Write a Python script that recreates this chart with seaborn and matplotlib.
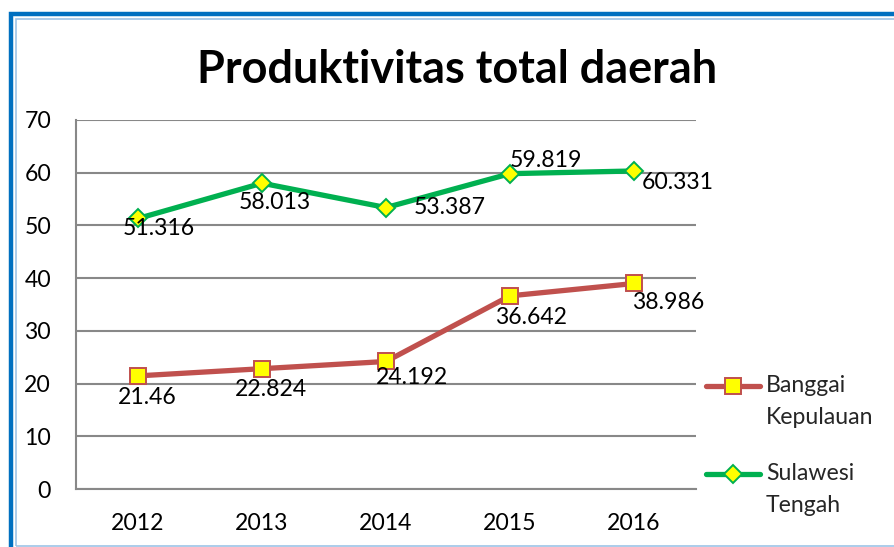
import matplotlib
matplotlib.use("Agg")
import matplotlib.pyplot as plt
import seaborn as sns
import pandas as pd
from matplotlib.lines import Line2D
from matplotlib.patches import Rectangle

years = ["2012", "2013", "2014", "2015", "2016"]
banggai = [21.46, 22.824, 24.192, 36.642, 38.986]
sulawesi = [51.316, 58.013, 53.387, 59.819, 60.331]
series_names = ["Banggai\nKepulauan", "Sulawesi\nTengah"]
title = "Produktivitas total daerah"
yticks = [0, 10, 20, 30, 40, 50, 60, 70]

# label offsets in pixels (dx, dy down)
off_b = [(9, 22), (9, 21), (26, 16), (21, 22), (34, 19)]
off_s = [(21, 10), (13, 19), (64, 0), (36, -13), (44, 12)]

sns.set_theme(style="white")
plt.rcParams["font.family"] = ["Lato", "DejaVu Sans"]

W, H = 894, 547
fig = plt.figure(figsize=(W / 100, H / 100), dpi=100)

def fx(x):
    return x / W

def fy(y):
    return 1 - y / H

# border
fig.patches.append(Rectangle((fx(11), fy(560)), fx(1000), fy(14) - fy(560),
                             transform=fig.transFigure, fill=False,
                             edgecolor="#0070C0", linewidth=3.2, zorder=0))
fig.patches.append(Rectangle((fx(15.5), fy(546)), fx(1000), fy(19) - fy(546),
                             transform=fig.transFigure, fill=False,
                             edgecolor="#9DC3E6", linewidth=1.2, zorder=0))

ax = fig.add_axes([fx(76), fy(489), fx(696) - fx(76), fy(120) - fy(489)])
ax.set_facecolor("none")

red = "#C0504D"
green = "#00B050"
df = pd.DataFrame({"year": years, "b": banggai, "s": sulawesi})
sns.lineplot(data=df, x="year", y="b", ax=ax, color=red, linewidth=3.8,
             marker="s", markersize=12, markerfacecolor="#FFFF00",
             markeredgecolor=red, markeredgewidth=1.4, zorder=3)
sns.lineplot(data=df, x="year", y="s", ax=ax, color=green, linewidth=3.8,
             marker="D", markersize=9.5, markerfacecolor="#FFFF00",
             markeredgecolor=green, markeredgewidth=1.4, zorder=3)

for i, (v, o) in enumerate(zip(banggai, off_b)):
    ax.annotate(f"{v:g}", (i, v), xytext=(o[0] * 0.72, -o[1] * 0.72),
                textcoords="offset points", ha="center", va="center",
                fontsize=16.6, color="black", zorder=4)
for i, (v, o) in enumerate(zip(sulawesi, off_s)):
    ax.annotate(f"{v:g}", (i, v), xytext=(o[0] * 0.72, -o[1] * 0.72),
                textcoords="offset points", ha="center", va="center",
                fontsize=16.6, color="black", zorder=4)

ax.set_xlim(-0.5, 4.5)
ax.set_ylim(0, 70)
ax.set_yticks(yticks)
ax.set_yticklabels([str(t) for t in yticks])
ax.set_xlabel("")
ax.set_ylabel("")
ax.grid(axis="y", color="#888888", linewidth=1.5)
ax.grid(axis="x", visible=False)
ax.set_axisbelow(True)
for s in ["top", "right"]:
    ax.spines[s].set_visible(False)
for s in ["left", "bottom"]:
    ax.spines[s].set_color("#888888")
    ax.spines[s].set_linewidth(1.5)
ax.tick_params(axis="y", length=0, pad=18, labelsize=16.6, labelcolor="black")
ax.tick_params(axis="x", length=0, pad=17, labelsize=16.6, labelcolor="black")

fig.text(fx(457), fy(83), title, ha="center", va="baseline",
         fontsize=32.4, fontweight="bold", color="black")

# legend
leg_rows = [(386, red, "s", 12), (474, green, "D", 9.5)]
for (ly, col, mk, ms), name in zip(leg_rows, series_names):
    fig.add_artist(Line2D([fx(706), fx(760)], [fy(ly), fy(ly)], color=col,
                          linewidth=3.8, transform=fig.transFigure))
    fig.add_artist(Line2D([fx(733)], [fy(ly)], marker=mk, markersize=ms,
                          markerfacecolor="#FFFF00", markeredgecolor=col,
                          markeredgewidth=1.4, linestyle="none",
                          transform=fig.transFigure))
    l1, l2 = name.split("\n")
    fig.text(fx(766), fy(ly), l1, ha="left", va="center", fontsize=16.6)
    fig.text(fx(766), fy(ly + 32), l2, ha="left", va="center", fontsize=16.6)

fig.savefig("out.png", dpi=100)
